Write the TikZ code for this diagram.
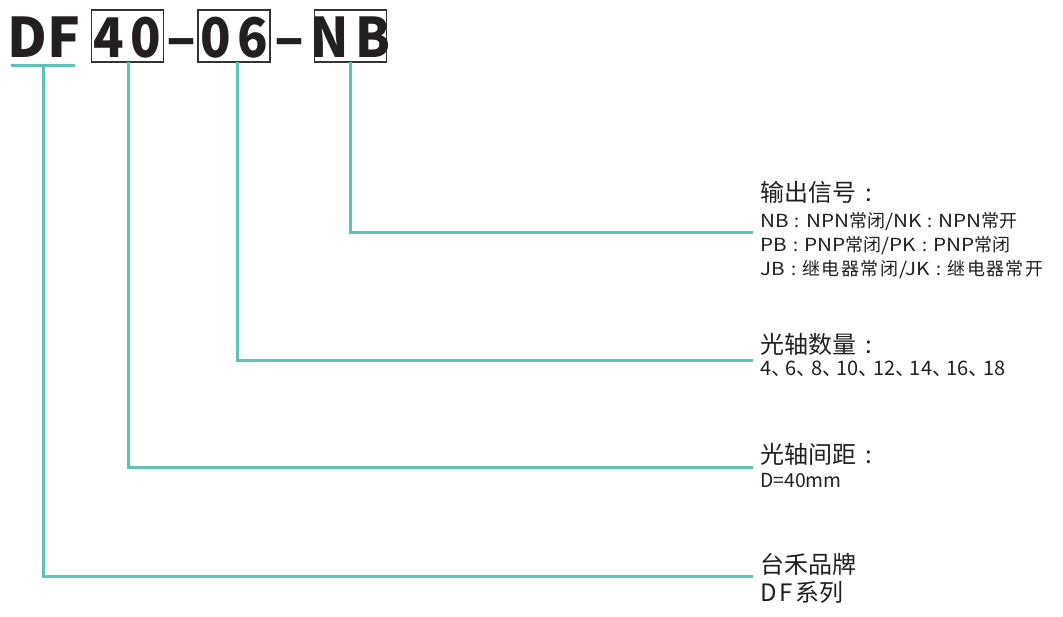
\documentclass[tikz,border=0pt]{standalone}
\usepackage{fontspec}
\newfontfamily\cjk{Noto Sans CJK SC}
\newfontfamily\latw[FakeStretch=1.15]{Noto Sans CJK SC}
\newfontfamily\cjkn[FakeStretch=0.92]{Noto Sans CJK SC}
\newcommand\wcolon{\kern4.6pt:\kern4.6pt}
\newcommand\hcolon{\kern7pt:}
\newcommand\dun{、\kern-0.28em}
\newcommand\ck{\kern1.1pt}
\definecolor{tealc}{RGB}{94,194,180}
\definecolor{boxc}{RGB}{51,51,51}
\definecolor{txtc}{RGB}{35,31,32}
\begin{document}
\begin{tikzpicture}[x=0.75pt,y=-0.75pt,
  tealline/.style={draw=tealc, line width=2.25pt, line join=miter},
  codebox/.style={draw=boxc, line width=1.1pt, minimum width=54pt, minimum height=39pt, inner sep=0pt},
  titletext/.style={inner sep=0pt, text=txtc, font=\cjk\bfseries\fontsize{41}{41}\selectfont},
  boxtext/.style={inner sep=0pt, text=txtc, font=\cjkn\bfseries\fontsize{41}{41}\selectfont},
  headtext/.style={inner sep=0pt, anchor=base west, text=txtc, font=\cjk\fontsize{18}{18}\selectfont},
  smalltext/.style={inner sep=0pt, anchor=base west, text=txtc, font=\cjk\fontsize{13.5}{13.5}\selectfont}]
\useasboundingbox (0,0) rectangle (1063,617);
% code boxes
\node[codebox] (b40) at (127.5,36) {};
\node[codebox] (b06) at (234,36) {};
\node[codebox] (bNB) at (350.5,36) {};
\node[titletext, anchor=base west] (df) at (7,58) {DF};
\node[boxtext, anchor=base] (t40) at (127.5,58) {4\kern5pt0};
\node[boxtext, anchor=base] (t06) at (234,58) {0\kern5pt6};
\node[boxtext, anchor=base] (tNB) at (350.5,58) {N\kern5pt B};
\node[titletext, anchor=base] (d1) at (181.5,58) {\makebox[18pt]{–}};
\node[titletext, anchor=base] (d2) at (290,58) {\makebox[18pt]{–}};
% labels
\node[headtext] (h1) at (760,201) {输出信号\hcolon};
\node[smalltext] (l1a) at (760,227) {{\latw NB}\wcolon{\latw NPN}常闭{\latw /NK}\wcolon{\latw NPN}常开};
\node[smalltext] (l1b) at (760,251) {{\latw PB}\wcolon{\latw PNP}常闭{\latw /PK}\wcolon{\latw PNP}常闭};
\node[smalltext] (l1c) at (760,275) {{\latw JB}\wcolon 继\ck 电\ck 器\ck 常\ck 闭\ck{\latw /JK}\wcolon 继\ck 电\ck 器\ck 常\ck 开};
\node[headtext] (h2) at (760,353) {光轴数量\hcolon};
\node[smalltext, font=\cjk\fontsize{15}{15}\selectfont] (l2) at (760,375) {4\dun 6\dun 8\dun 10\dun 12\dun 14\dun 16\dun 18};
\node[headtext] (h3) at (760,463) {光轴间距\hcolon};
\node[smalltext, font=\cjk\fontsize{14.5}{14.5}\selectfont] (l3) at (760,487) {D=40mm};
\node[headtext] (h4) at (760,573) {台禾品牌};
\node[headtext] (l4) at (760,601) {D\kern2pt F\kern2pt 系列};
% connectors
\coordinate (ul1) at (11,66);
\coordinate (ul2) at (75,66);
\coordinate (sdf) at (43,66);
\coordinate (s40) at (128,62);
\coordinate (s06) at (237,62);
\coordinate (sNB) at (350,62);
\coordinate (e1) at (753,232);
\coordinate (e2) at (753,360);
\coordinate (e3) at (753,467);
\coordinate (e4) at (753,576);
\draw[tealline] (ul1) -- (ul2);
\draw[tealline] (sdf) |- (e4);
\draw[tealline] (s40) |- (e3);
\draw[tealline] (s06) |- (e2);
\draw[tealline] (sNB) |- (e1);
\end{tikzpicture}
\end{document}
